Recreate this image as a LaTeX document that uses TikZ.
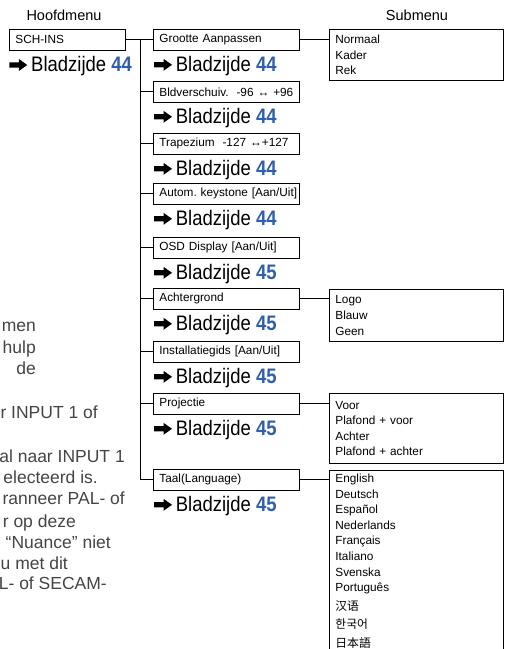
\documentclass[tikz,border=0pt]{standalone}
\usepackage{fontspec}
\setmainfont{Liberation Sans}
\newfontfamily\narrowsans[FakeStretch=0.88]{Liberation Sans}
\newfontfamily\cjk{Noto Sans CJK SC}
\usepackage{xcolor}
\usepackage{tikz}
\usetikzlibrary{positioning, calc}
\definecolor{pageblue}{HTML}{2F5FAE}
\definecolor{sidegray}{HTML}{444444}
\frenchspacing

\tikzset{
  menubox/.style={draw, line width=0.8pt, anchor=north west, minimum height=21pt,
    inner xsep=1.5pt, inner ysep=0pt, text width=143pt, align=left,
    execute at begin node={\hspace*{4.5pt}},
    font=\fontsize{11.8}{14}\selectfont},
  subbox/.style={draw, line width=0.8pt, anchor=north west, inner xsep=6pt,
    inner ysep=3.5pt, text width=162pt, align=left,
    font=\fontsize{11.8}{15.6}\selectfont},
  pageref/.style={anchor=base west, inner sep=0pt,
    font=\narrowsans\fontsize{21}{21}\selectfont},
  header/.style={font=\fontsize{14.5}{16}\selectfont},
  sidetext/.style={anchor=base east, inner sep=0pt, text=sidegray,
    font=\fontsize{17.5}{21}\selectfont},
  link/.style={line width=0.9pt},
}
\newcommand{\pagenr}[1]{\textbf{\textcolor{pageblue}{#1}}}
% heavy arrow in front of a page reference
\newcommand{\refarrow}[1]{%
  \fill ($(#1.base west)+(-21.7,-6.5)$) ++(0,-2.6) -- ++(9.5,0) -- ++(0,-3.4)
    -- ++(8.5,6) -- ++(-8.5,6) -- ++(0,-3.4) -- ++(-9.5,0) -- cycle;}

\begin{document}
\begin{tikzpicture}[x=1pt, y=-1pt]
  \useasboundingbox (0,0) rectangle (506,649);
  % Headers
  \node[header] (hoofd) at (64,15) {Hoofdmenu};
  \node[header] (submenu) at (417,15) {Submenu};
  % Main menu
  \node[menubox, text width=113pt] (sch) at (9,29) {SCH-INS};
  \node[pageref] (p0) at (31,71.5) {Bladzijde \pagenr{44}};
  \refarrow{p0}
  % Menu items
  \foreach \i/\top/\lab/\nr in {1/29/{Grootte Aanpassen}/44,
      2/81/{Bldverschuiv.\ \ -96 ↔ +96}/44, 3/133/{Trapezium\ \ -127 ↔+127}/44,
      4/183/{Autom. keystone [Aan/Uit]}/44, 5/237/{OSD Display [Aan/Uit]}/45,
      6/288/{Achtergrond}/45, 7/341/{Installatiegids [Aan/Uit]}/45,
      8/393/{Projectie}/45, 9/469/{Taal(Language)}/45} {
    \node[menubox] (m\i) at (153,\top) {\lab};
    \node[pageref] (p\i) at ($(m\i.south west)+(22.7,20.5)$) {Bladzijde \pagenr{\nr}};
    \refarrow{p\i}
  }
  % Spine
  \coordinate (spine) at (140,0);
  \draw[link] (sch.east) -- (m1.west);
  \draw[link] (m1.west -| spine) |- (m9.west);
  \foreach \i in {2,...,8}
    \draw[link] (m\i.west -| spine) -- (m\i.west);
  % Submenus
  \node[subbox, minimum height=51pt] (s1) at (329,29) {Normaal\\Kader\\Rek};
  \node[subbox, minimum height=52pt] (s6) at (329,289) {Logo\\Blauw\\Geen};
  \node[subbox, minimum height=70pt] (s8) at (329,393)
    {Voor\\Plafond + voor\\Achter\\Plafond + achter};
  \node[subbox, draw=none] (s9) at (329,470)
    {English\\Deutsch\\Español\\Nederlands\\Français\\Italiano\\Svenska\\Português\\[3pt]%
     {\cjk 汉语}\\[3pt]{\cjk 한국어}\\[3pt]{\cjk 日本語}};
  \draw[line width=0.8pt] (s9.north west) ++(0,179) |- (s9.north east) -- ++(0,179);
  \foreach \i in {1,6,8,9}
    \draw[link] (m\i.east) -- (m\i.east -| s\i.west);
  % Cut-off text on the left
  \begin{scope}
    \clip (0,0) rectangle (506,649);
    \foreach \txt/\xr/\yb [count=\n] in {men/36/331, hulp/36/353, de/36/374,
        {r INPUT 1 of}/98/418, {al naar INPUT 1}/125/462, {electeerd is.}/98/483,
        {ranneer PAL- of}/125/504, {r op deze}/76/527, {“Nuance” niet}/111/548,
        {u met dit}/68/569, {L- of SECAM-}/107/589}
      \node[sidetext] (side\n) at (\xr,\yb) {\txt};
  \end{scope}
\end{tikzpicture}
\end{document}
